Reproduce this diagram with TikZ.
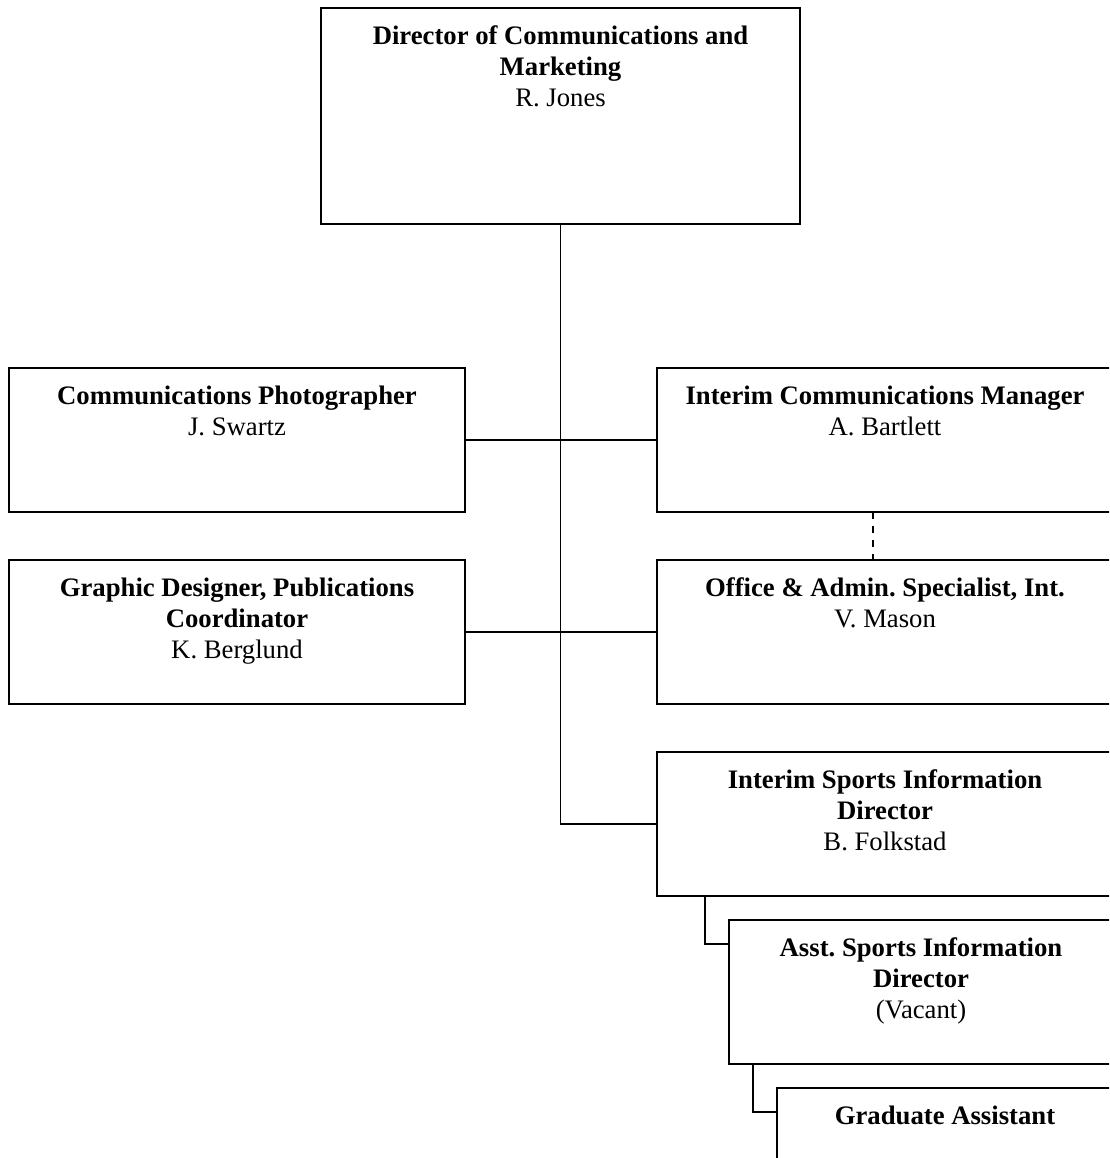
\documentclass[tikz,border=0pt]{standalone}
\usepackage{fontspec}
\setmainfont{Liberation Serif}
\usetikzlibrary{calc}
\frenchspacing

\tikzset{
  orgbox/.style={draw, line width=1.4pt, rectangle, inner sep=0pt, outer sep=0pt,
                 anchor=north west},
  orgtext/.style={anchor=north, inner sep=0pt, align=center,
                  font=\fontsize{26.7}{31}\selectfont},
  link/.style={line width=1.4pt},
  dashlink/.style={line width=1.4pt, dash pattern=on 7pt off 7pt}
}
\newcommand{\hd}[1]{\rule{0pt}{20pt}\textbf{#1}}

\begin{document}
\begin{tikzpicture}[x=1pt, y=-1pt]
  \useasboundingbox (0,0) rectangle (1109,1158);
  \fill[white] (0,0) rectangle (1109,1158);
  \clip (0,0) rectangle (1109,1158);

  % boxes
  \node[orgbox, minimum width=479pt, minimum height=216pt] (dir)   at (321,8) {};
  \node[orgbox, minimum width=456pt, minimum height=144pt] (photo) at (9,368) {};
  \node[orgbox, minimum width=456pt, minimum height=144pt] (gd)    at (9,560) {};
  \node[orgbox, minimum width=456pt, minimum height=144pt] (icm)   at (657,368) {};
  \node[orgbox, minimum width=456pt, minimum height=144pt] (oas)   at (657,560) {};
  \node[orgbox, minimum width=456pt, minimum height=144pt] (sid)   at (657,752) {};
  \node[orgbox, minimum width=384pt, minimum height=144pt] (asid)  at (729,920) {};
  \node[orgbox, minimum width=336pt, minimum height=144pt] (ga)    at (777,1088) {};

  % titles and names
  \node[orgtext] (tdir) at ($(dir.north)+(0,16)$)
    {\hd{Director of Communications and}\\\textbf{Marketing}\\R. Jones};
  \node[orgtext] (tphoto) at ($(photo.north)+(0,16)$)
    {\hd{Communications Photographer}\\J. Swartz};
  \node[orgtext] (tgd) at ($(gd.north)+(0,16)$)
    {\hd{Graphic Designer, Publications}\\\textbf{Coordinator}\\K. Berglund};
  \node[orgtext] (ticm) at ($(icm.north)+(0,16)$)
    {\hd{Interim Communications Manager}\\A. Bartlett};
  \node[orgtext] (toas) at ($(oas.north)+(0,16)$)
    {\hd{Office \& Admin. Specialist, Int.}\\V. Mason};
  \node[orgtext] (tsid) at ($(sid.north)+(0,16)$)
    {\hd{Interim Sports Information}\\\textbf{Director}\\B. Folkstad};
  \node[orgtext] (tasid) at ($(asid.north)+(0,16)$)
    {\hd{Asst. Sports Information}\\\textbf{Director}\\(Vacant)};
  \node[orgtext] (tga) at ($(ga.north)+(0,16)$)
    {\hd{Graduate Assistant}};

  % connectors
  \draw[link] (dir.south) |- (sid.west);
  \draw[link] (photo.east) -- (icm.west);
  \draw[link] (gd.east) -- (oas.west);
  \draw[dashlink] ($(icm.south)+(-12,0)$) -- ($(oas.north)+(-12,0)$);
  \draw[link] ($(sid.south west)+(48,0)$) |- ($(asid.north west)+(0,24)$);
  \draw[link] ($(asid.south west)+(24,0)$) |- ($(ga.north west)+(0,24)$);
\end{tikzpicture}
\end{document}
